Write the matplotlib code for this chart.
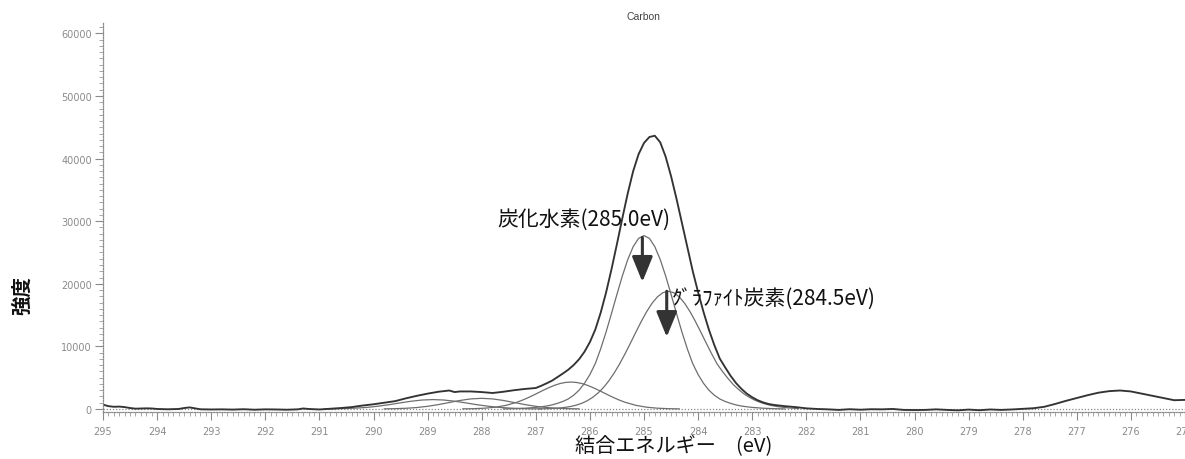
import matplotlib
matplotlib.use("Agg")
import matplotlib.pyplot as plt
from matplotlib.ticker import MultipleLocator

plt.rcParams['font.family'] = ['Noto Sans CJK JP', 'DejaVu Sans']

# ---------------- data (binding energy eV, intensity) ----------------
measured = [
    (295.0, 700), (294.9, 450), (294.8, 350), (294.7, 380), (294.6, 300), (294.5, 150),
    (294.4, 50), (294.3, 80), (294.2, 100), (294.1, 80), (294.0, 0), (293.8, -50),
    (293.6, 0), (293.5, 150), (293.4, 250), (293.3, 100), (293.2, -50), (293.0, -80),
    (292.8, -60), (292.6, -100), (292.4, -40), (292.2, -120), (292.0, -60), (291.8, -80),
    (291.6, -120), (291.4, -60), (291.3, 80), (291.2, 0), (291.0, -80), (290.8, 30),
    (290.6, 150), (290.4, 300), (290.2, 550), (290.0, 750), (289.8, 1000), (289.6, 1250),
    (289.4, 1700), (289.2, 2100), (289.0, 2450), (288.8, 2750), (288.6, 2950), (288.5, 2700),
    (288.4, 2800), (288.2, 2800), (288.0, 2700), (287.8, 2550), (287.6, 2750), (287.4, 3000),
    (287.2, 3200), (287.0, 3350), (286.9, 3700), (286.8, 4100), (286.7, 4520), (286.6, 5080),
    (286.5, 5660), (286.4, 6270), (286.3, 7020), (286.2, 7940), (286.1, 9140), (286.0, 10690),
    (285.9, 12690), (285.8, 15400), (285.7, 18640), (285.6, 22350), (285.5, 26360), (285.4, 30490),
    (285.3, 34460), (285.2, 38000), (285.1, 40700), (285.0, 42500), (284.9, 43450), (284.8, 43650),
    (284.7, 42600), (284.6, 40300), (284.5, 37200), (284.4, 33610), (284.3, 29780), (284.2, 25880),
    (284.1, 22060), (284.0, 18640), (283.9, 15500), (283.8, 12660), (283.7, 10200), (283.6, 8060),
    (283.5, 6650), (283.4, 5300), (283.3, 4150), (283.2, 3220), (283.1, 2450), (283.0, 1870),
    (282.9, 1400), (282.8, 1050), (282.7, 800), (282.6, 650), (282.5, 550), (282.4, 450),
    (282.3, 380), (282.2, 300), (282.1, 200), (282.0, 100), (281.8, 0), (281.6, -60),
    (281.4, -150), (281.2, -40), (281.0, -120), (280.8, -40), (280.6, -60), (280.4, 0),
    (280.2, -150), (280.0, -170), (279.8, -150), (279.6, -60), (279.4, -150), (279.2, -220),
    (279.0, -100), (278.8, -200), (278.6, -80), (278.4, -150), (278.2, -80), (278.0, 20),
    (277.8, 120), (277.6, 350), (277.4, 800), (277.2, 1300), (277.0, 1750), (276.8, 2200),
    (276.6, 2600), (276.4, 2850), (276.2, 2950), (276.0, 2800), (275.8, 2450), (275.6, 2100),
    (275.4, 1750), (275.2, 1400), (275.0, 1450),
]

hydrocarbon_peak = [  # C-H, 285.0 eV
    (287.6, 10), (287.4, 50), (287.2, 120), (287.0, 250), (286.9, 350), (286.8, 470),
    (286.7, 650), (286.6, 900), (286.5, 1200), (286.4, 1600), (286.3, 2200), (286.2, 3000),
    (286.1, 4100), (286.0, 5500), (285.9, 7260), (285.8, 9620), (285.7, 12320), (285.6, 15280),
    (285.5, 18320), (285.4, 21260), (285.3, 23870), (285.2, 25930), (285.1, 27250), (285.0, 27700),
    (284.9, 27250), (284.8, 25930), (284.7, 23870), (284.6, 21260), (284.5, 18320), (284.4, 15280),
    (284.3, 12320), (284.2, 9620), (284.1, 7260), (284.0, 5500), (283.9, 4100), (283.8, 3000),
    (283.7, 2200), (283.6, 1600), (283.5, 1200), (283.4, 900), (283.3, 650), (283.2, 470),
    (283.1, 350), (283.0, 250), (282.8, 120), (282.6, 50), (282.4, 10),
]

graphite_peak = [  # graphite, 284.5 eV
    (286.95, 21), (286.75, 61), (286.55, 165), (286.45, 262), (286.35, 406), (286.25, 615),
    (286.15, 910), (286.05, 1310), (285.95, 1850), (285.85, 2540), (285.75, 3420), (285.65, 4490),
    (285.55, 5760), (285.45, 7210), (285.35, 8820), (285.25, 10530), (285.15, 12280), (285.05, 13990),
    (284.95, 15560), (284.85, 16900), (284.75, 17930), (284.65, 18580), (284.55, 18800), (284.45, 18580),
    (284.35, 17930), (284.25, 16900), (284.15, 15560), (284.05, 13990), (283.95, 12280), (283.85, 10530),
    (283.75, 8820), (283.65, 7210), (283.55, 6000), (283.45, 4900), (283.35, 3900), (283.25, 3100),
    (283.15, 2400), (283.05, 1850), (282.95, 1400), (282.85, 1050), (282.75, 780), (282.65, 560),
    (282.55, 400), (282.35, 180), (282.15, 60),
]

c_o_peak = [  # ~286.4 eV
    (288.35, 17), (288.15, 48), (287.95, 123), (287.75, 280), (287.55, 580), (287.35, 1070),
    (287.25, 1400), (287.15, 1770), (287.05, 2180), (286.95, 2610), (286.85, 3040), (286.75, 3440),
    (286.65, 3795), (286.55, 4070), (286.45, 4240), (286.35, 4300), (286.25, 4240), (286.15, 4070),
    (286.05, 3795), (285.95, 3440), (285.85, 3040), (285.75, 2610), (285.65, 2180), (285.55, 1770),
    (285.45, 1400), (285.35, 1070), (285.15, 580), (284.95, 280), (284.75, 123), (284.55, 48),
    (284.35, 17),
]

coo_peak = [  # ~288.9 eV
    (290.9, 13), (290.7, 32), (290.5, 72), (290.3, 150), (290.1, 270), (289.9, 460),
    (289.7, 700), (289.5, 980), (289.3, 1240), (289.1, 1430), (288.9, 1500), (288.7, 1430),
    (288.5, 1240), (288.3, 980), (288.1, 700), (287.9, 460), (287.7, 270), (287.5, 150),
    (287.3, 72), (287.1, 32), (286.9, 13),
]

co_peak = [  # ~288.0 eV
    (289.8, 19), (289.6, 49), (289.4, 112), (289.2, 230), (289.0, 424), (288.8, 699),
    (288.6, 1031), (288.4, 1362), (288.2, 1608), (288.0, 1700), (287.8, 1608), (287.6, 1362),
    (287.4, 1031), (287.2, 699), (287.0, 424), (286.8, 230), (286.6, 112), (286.4, 49),
    (286.2, 19),
]

x_ticks = list(range(275, 296))
y_ticks = [0, 10000, 20000, 30000, 40000, 50000, 60000]

label_ch = "炭化水素(285.0eV)"
label_gr = "ｸﾞﾗﾌｧｲﾄ炭素(284.5eV)"
# annotation arrows: (x, y_start, y_end)
arrow_ch = (285.03, 27400, 20300)
arrow_gr = (284.58, 18800, 11500)

# ---------------- figure ----------------
W, H = 1185, 460
fig = plt.figure(figsize=(W / 100, H / 100), dpi=100)
ax = fig.add_axes([103 / W, 1 - 413.1 / H, 1 - 103 / W, (413.1 - 23.45) / H])

comp_kw = dict(color='#6e6e6e', lw=0.9)
for series in (coo_peak, co_peak, c_o_peak, graphite_peak, hydrocarbon_peak):
    xs, ys = zip(*series)
    ax.plot(xs, ys, **comp_kw)

xs, ys = zip(*measured)
ax.plot(xs, ys, color='#333333', lw=1.35)

ax.axhline(0, color='#888888', lw=0.9, ls=(0, (1, 1.5)), zorder=0)

ax.set_xlim(295, 275)
ax.set_ylim(-500, 61750)

ax.set_xticks(x_ticks)
ax.set_xticklabels([str(v) for v in x_ticks])
ax.xaxis.set_minor_locator(MultipleLocator(0.1))
ax.set_yticks(y_ticks)
ax.set_yticklabels([str(v) for v in y_ticks])
ax.yaxis.set_minor_locator(MultipleLocator(1000))

for side in ('top', 'right'):
    ax.spines[side].set_visible(False)
for side in ('left', 'bottom'):
    ax.spines[side].set_color('#8a8a8a')
    ax.spines[side].set_linestyle((0, (1, 1.2)))
    ax.spines[side].set_linewidth(0.9)

ax.tick_params(axis='both', which='major', direction='out', length=6, width=0.8,
               colors='#8a8a8a', labelsize=7, labelcolor='#8a8a8a', pad=2)
ax.tick_params(axis='both', which='minor', direction='out', length=3, width=0.6,
               colors='#9a9a9a')
for lab in ax.get_xticklabels() + ax.get_yticklabels():
    lab.set_family('DejaVu Sans')
ax.tick_params(axis='x', which='major', pad=4)

# arrows
for (ax_x, y0, y1) in (arrow_ch, arrow_gr):
    ax.annotate('', xy=(ax_x, y1), xytext=(ax_x, y0),
                arrowprops=dict(arrowstyle='-|>,head_width=0.45,head_length=1.1',
                                color='#333333', lw=2.2, shrinkA=0, shrinkB=0,
                                mutation_scale=14))

fig.text(497 / W, 1 - 220 / H, label_ch, fontsize=15, color='#111111',
         ha='left', va='center')
fig.text(672 / W, 1 - 299 / H, label_gr, fontsize=15, color='#111111',
         ha='left', va='center')

fig.text(643 / W, 1 - 17 / H, "Carbon", fontsize=7.5, color='#444444',
         ha='center', va='center', family='Liberation Sans')
fig.text(674 / W, 1 - 447 / H, "結合エネルギー　(eV)", fontsize=14.5, color='#111111',
         ha='center', va='center')
fig.text(22 / W, 1 - 296 / H, "強度", fontsize=14, color='#111111', rotation=90,
         ha='center', va='center', fontweight='bold')

fig.savefig("out.png", dpi=100)
